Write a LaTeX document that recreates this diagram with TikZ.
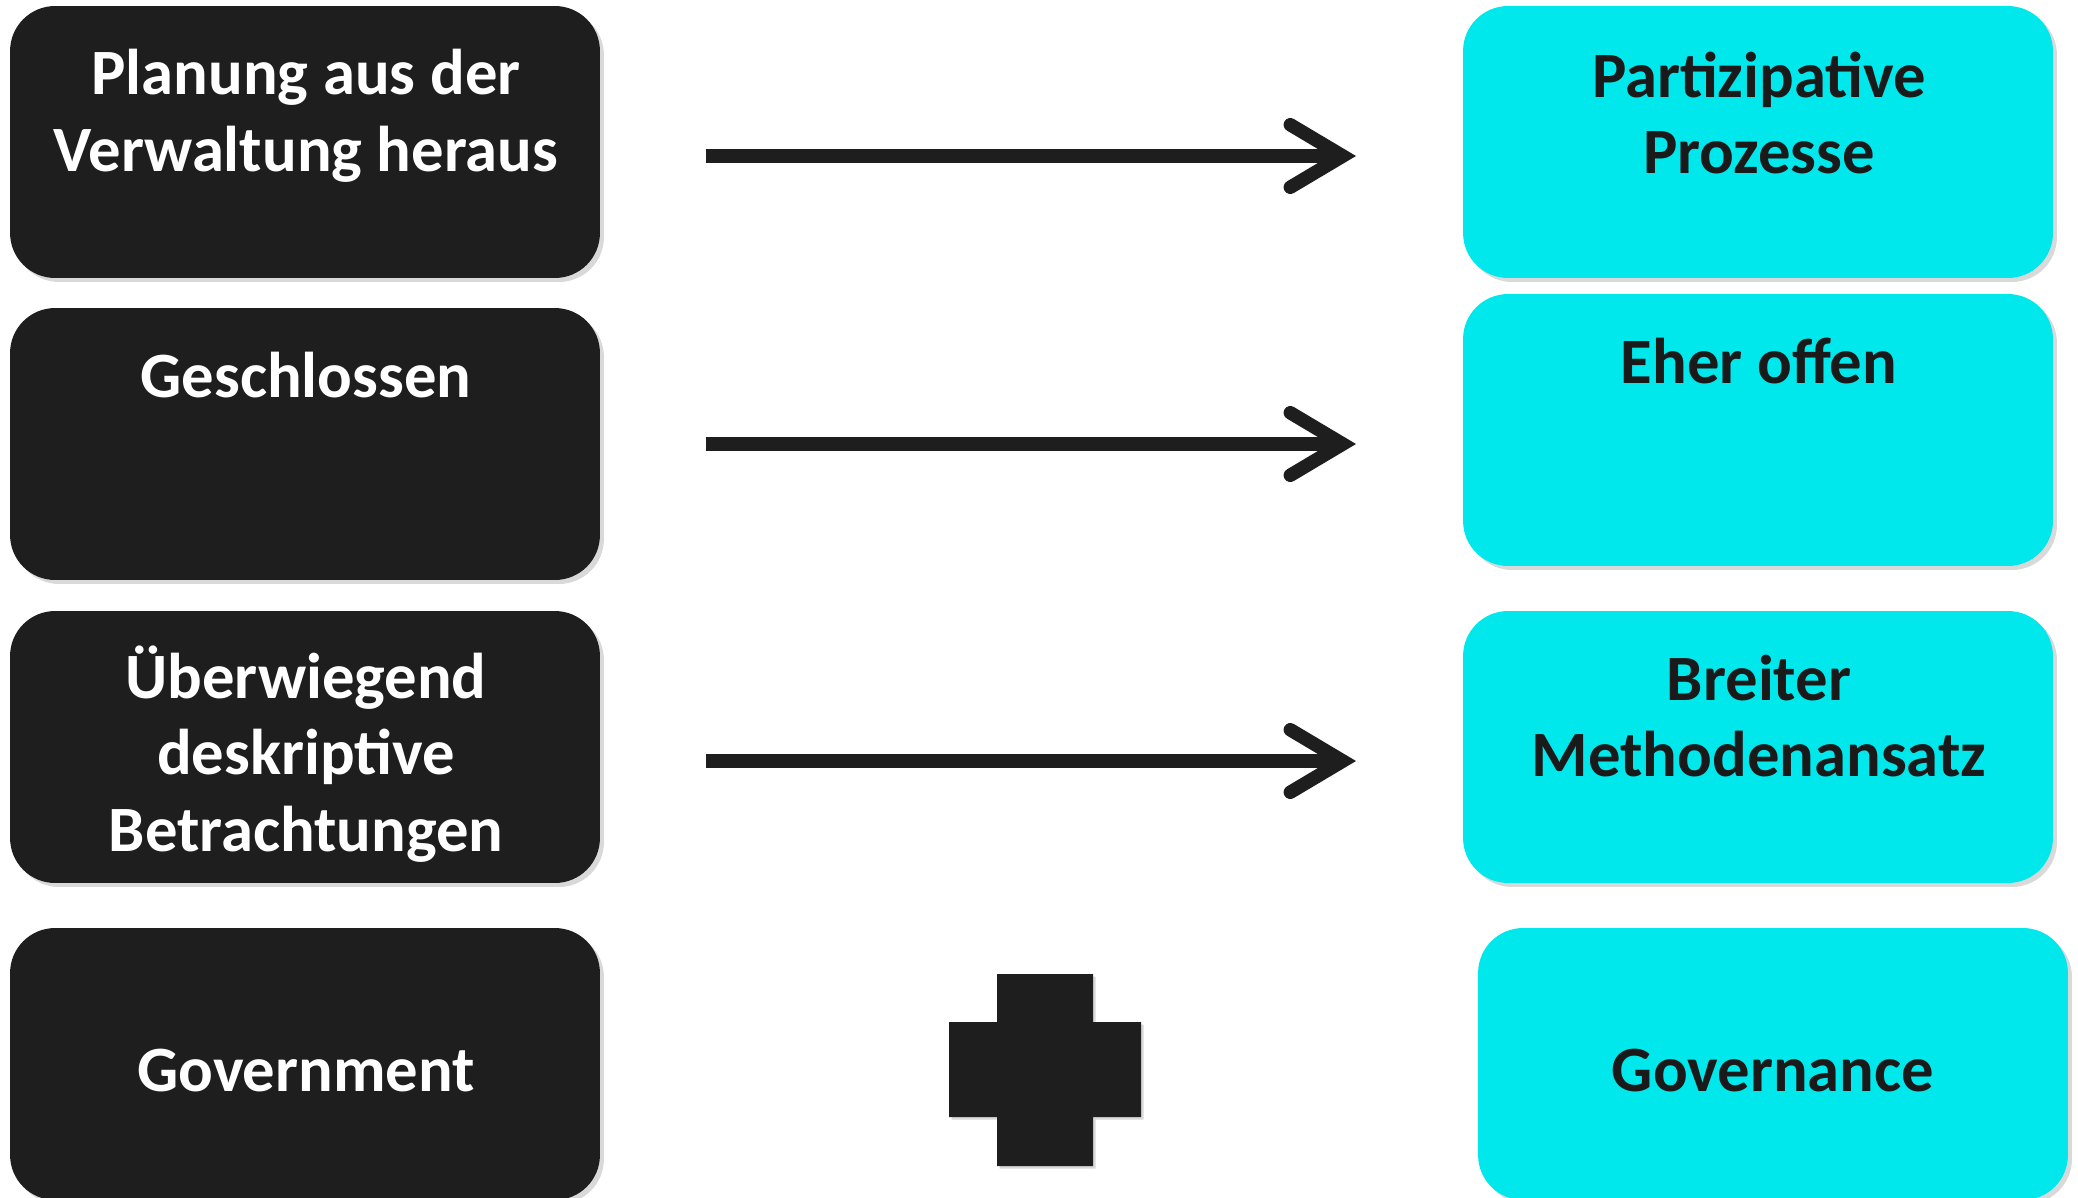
\documentclass[tikz,border=0pt]{standalone}
\usepackage{fontspec}
\setmainfont{Carlito}
\usetikzlibrary{arrows.meta,shadows}
\definecolor{boxblack}{HTML}{1E1E1E}
\definecolor{boxcyan}{HTML}{00E8EC}
\definecolor{inkblack}{HTML}{1A1A1A}
\tikzset{
	box/.style={rectangle, rounded corners=0.9cm, minimum width=11.8cm, minimum height=5.44cm, inner sep=0pt,
		drop shadow={shadow xshift=0.08cm, shadow yshift=-0.08cm, opacity=0.3}},
	darkbox/.style={box, fill=boxblack},
	cyanbox/.style={box, fill=boxcyan},
	boxtext/.style={align=center, inner sep=0pt, font=\bfseries\fontsize{36.8}{43.5}\selectfont},
	whitetext/.style={boxtext, text=white},
	darktext/.style={boxtext, text=inkblack},
	flow/.style={line width=0.27cm, draw=boxblack, -{Straight Barb[length=1.05cm, width=1.25cm, line cap=round, line join=miter]}}
}
\begin{document}
\begin{tikzpicture}[x=0.02cm, y=-0.02cm]
			%%Frame
			\useasboundingbox (0,0) rectangle (2078,1197);
			%%Left boxes
			\node[darkbox] (plan) at (305,142) {};
			\node[darkbox] (closed) at (305,444) {};
			\node[darkbox] (descr) at (305,747) {};
			\node[darkbox] (govt) at (305,1064) {};
			%%Right boxes
			\node[cyanbox] (part) at (1758,142) {};
			\node[cyanbox] (open) at (1758,430) {};
			\node[cyanbox] (broad) at (1758,747) {};
			\node[cyanbox] (gove) at (1773,1064) {};
			%%Labels
			\node[whitetext] (planlbl) at (306,116) {Planung aus der\\Verwaltung heraus};
			\node[whitetext] (closedlbl) at (306,375) {Geschlossen};
			\node[whitetext] (descrlbl) at (306,754) {Überwiegend\\deskriptive\\Betrachtungen};
			\node[whitetext] (govtlbl) at (306,1071) {Government};
			\node[darktext] (partlbl) at (1759,113) {Partizipative\\Prozesse};
			\node[darktext] (openlbl) at (1759,361) {Eher offen};
			\node[darktext] (broadlbl) at (1759,716) {Breiter\\Methodenansatz};
			\node[darktext] (govelbl) at (1773,1071) {Governance};
			%%Arrows
			\coordinate (s1) at (706,156);
			\coordinate (e1) at (1356,156);
			\coordinate (s2) at (706,444);
			\coordinate (e2) at (1356,444);
			\coordinate (s3) at (706,761);
			\coordinate (e3) at (1356,761);
			\draw[flow] (s1) -- (e1);
			\draw[flow] (s2) -- (e2);
			\draw[flow] (s3) -- (e3);
			%%Plus
			\fill[boxblack, drop shadow={shadow xshift=0.05cm, shadow yshift=-0.05cm, opacity=0.3}]
				(997,974) -- (1093,974) -- (1093,1022) -- (1141,1022) -- (1141,1117) -- (1093,1117)
				-- (1093,1166) -- (997,1166) -- (997,1117) -- (949,1117) -- (949,1022) -- (997,1022) -- cycle;
\end{tikzpicture}
\end{document}
